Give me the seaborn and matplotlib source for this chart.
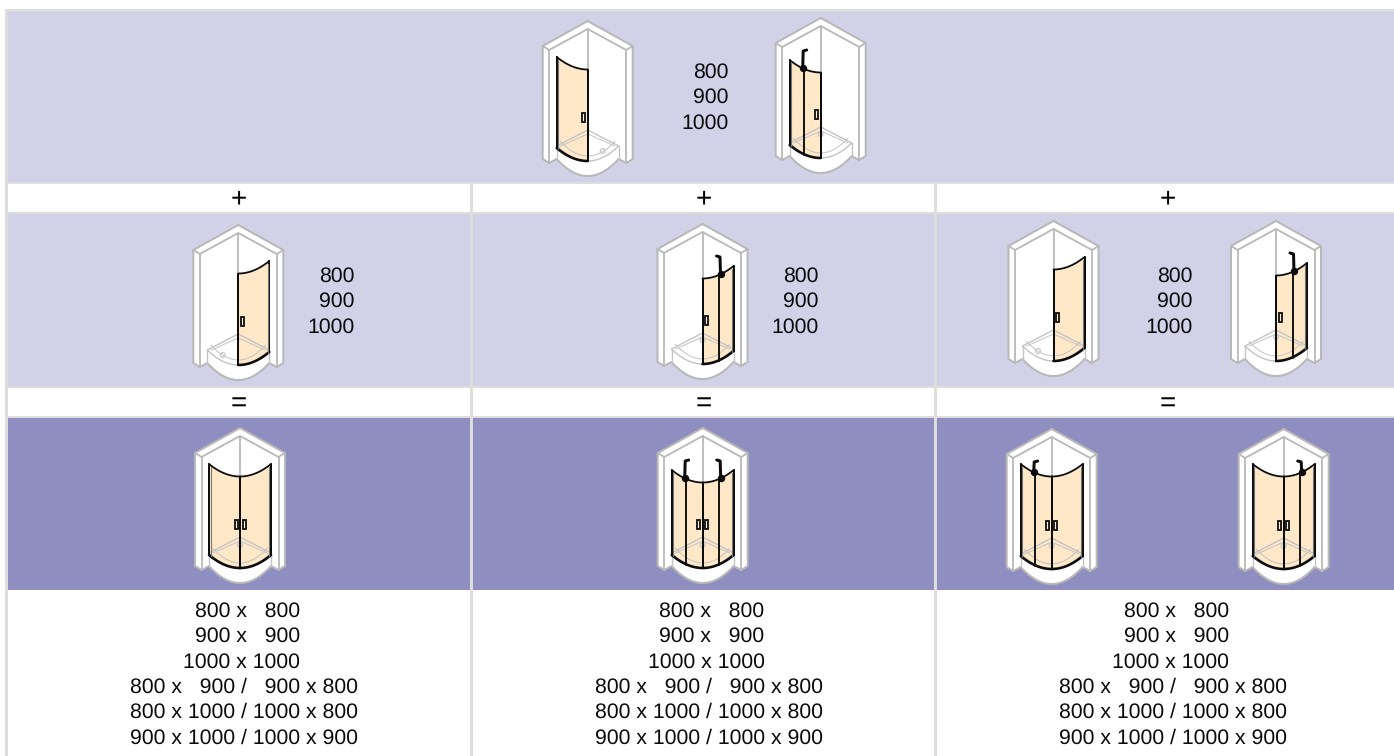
import matplotlib
matplotlib.use("Agg")
import matplotlib.pyplot as plt
import numpy as np
import seaborn as sns
from matplotlib.colors import ListedColormap
from matplotlib.patches import Circle, Polygon, Rectangle

W, H = 1394, 756

# table content
width_sizes = ["800", "900", "1000"]
result_short = ["800 x   800", "900 x   900", "1000 x 1000"]
result_long = ["800 x   900 /   900 x 800", "800 x 1000 / 1000 x 800", "900 x 1000 / 1000 x 900"]
plus_signs = ["+", "+", "+"]
equal_signs = ["=", "=", "="]

# colours: white, rule grey, light lilac, dark lilac
table_colors = ["#ffffff", "#dddddd", "#d2d1e8", "#8f8ec0"]
GLASS = "#ffe8c8"
SHELL = "#b8b8b8"
TRAY = "#c4c4c4"
INK = "#0c0c0c"

# layout, in pixels
col_centers = [239, 703.5, 1168]
col_offsets = [0, 464.5, 929]
rule_x = [(470, 473), (934, 937)]
band_rows = [(12, 182, 2), (184, 212, 0), (214, 386, 2), (388, 416, 0), (418, 590, 3)]

# apex x, apex y, left part, right part, glass top at the edge
icons = [
    (587.7, 21, "door", None, 36),
    (820.7, 18, "fold", None, 42),
    (238.3, 225, None, "door", 36),
    (702.5, 224, None, "fold", 42),
    (1053.5, 221, None, "door", 36),
    (1276, 221, None, "fold", 42),
    (240, 428, "door", "door", 36),
    (702.7, 428, "fold", "fold", 42),
    (1051.7, 429, "fold", "door", 35),
    (1283.7, 429, "door", "fold", 35),
]


def px(width):
    return width * 0.72


def table_grid():
    grid = np.zeros((H, W), dtype=int)
    grid[9:, 5:] = 1
    grid[590:, 8:] = 0
    for top, bottom, code in band_rows:
        grid[top:bottom, 8:] = code
    for left, right in rule_x:
        grid[184:, left:right] = 1
    return grid


def draw_icon(ax, x0, y0, left, right, top_edge):
    def line(xs, ys, color=SHELL, width=1.5, z=3):
        ax.plot(x0 + np.asarray(xs), y0 + np.asarray(ys), color=color, lw=px(width),
                solid_capstyle="round", solid_joinstyle="round", zorder=z)

    def poly(xs, ys, face, z):
        ax.add_patch(Polygon(np.column_stack([x0 + np.asarray(xs), y0 + np.asarray(ys)]),
                             closed=True, facecolor=face, edgecolor="none", zorder=z))

    arc_x = np.linspace(-31, 31, 61)
    front = 138 + 17 * (1 - (arc_x / 31) ** 2)
    plate = 125 + 15 * (1 - (arc_x / 31) ** 2)

    # wall shell
    out_x = np.r_[0, 45, 45, 38.5, arc_x[::-1], -38.5, -45, -45]
    out_y = np.r_[0, 25, 138, 142, front[::-1], 142, 138, 25]
    poly(out_x, out_y, "#ffffff", 2)
    line(np.r_[out_x, 0], np.r_[out_y, 0], width=2)
    line([-45, -38.5, 0, 38.5, 45], [25, 29, 8, 29, 25], width=1.8)
    line([-38.5, -38.5], [29, 142], width=1.8)
    line([38.5, 38.5], [29, 142], width=1.8)
    line([0, 0], [8, 109], width=1.8)

    # glass panels under the tray lines
    for side, part in ((-1, left), (1, right)):
        if part is None:
            continue
        xs = np.linspace(0, 31, 32)
        top = top_edge + 12.5 * (1 - (xs / 31) ** 2)
        bottom = 127 + 13 * (1 - (xs / 31) ** 2)
        ax.fill_between(x0 + side * xs, y0 + top, y0 + bottom, color=GLASS, lw=0, zorder=3.5)

    # tray
    line(np.r_[arc_x, 31, 0, -31, -31], np.r_[plate, 125, 109, 125, 125], color=TRAY, width=1.4, z=4)
    line(arc_x * 0.88, (plate - 4) * 0.985 + 1, color=TRAY, width=1, z=4)
    line([-27, 0, 27], [125, 113, 125], color=TRAY, width=1, z=4)
    line([-31, -31], [125, 138], color=TRAY, width=1.4, z=4)
    line([31, 31], [125, 138], color=TRAY, width=1.4, z=4)
    if left and right:
        drain = (0, 117)
    elif left == "door":
        drain = (15, 130)
    elif right == "door":
        drain = (-15.5, 130)
    else:
        drain = (0, 116)
    ax.add_patch(Circle((x0 + drain[0], y0 + drain[1]), 2.4, facecolor="none",
                        edgecolor=TRAY, lw=px(1.2), zorder=4))

    # frame, handles, arms
    for side, part in ((-1, left), (1, right)):
        if part is None:
            continue
        xs = np.linspace(0, 31, 32)
        top = top_edge + 12.5 * (1 - (xs / 31) ** 2)
        bottom = 127 + 13 * (1 - (xs / 31) ** 2)
        line(side * xs, top, color=INK, width=1.8, z=5)
        line(side * xs, bottom, color=INK, width=2.6, z=5)
        line([side * 31, side * 31], [top[-1], bottom[-1]], color=INK, width=2, z=5)
        line([side * 29.3, side * 29.3], [top[-3] + 1, bottom[-3] - 1], color="#777777", width=1.1, z=5)
        line([0, 0], [top[0], bottom[0]], color=INK, width=2, z=5)
        ax.add_patch(Rectangle((x0 + side * 4 - 1.5, y0 + 91.5), 3, 9.5, facecolor="#fff4e4",
                               edgecolor=INK, lw=px(1.8), zorder=6))
        if part == "fold":
            k = np.argmin(np.abs(xs - 16.5))
            line([side * 16.5, side * 16.5], [top[k], bottom[k]], color=INK, width=1.9, z=5)
            line([side * 18, side * 17.5, side * 14], [top[k] - 1, 33, 32], color=INK, width=3, z=7)
            ax.plot([x0 + side * 18], [y0 + top[k] - 1], "o", ms=px(6), color=INK, zorder=7)


sns.set_theme(style="white")
plt.rcParams["font.family"] = ["Liberation Sans", "DejaVu Sans"]
plt.rcParams["text.hinting"] = "no_hinting"

fig = plt.figure(figsize=(W / 100, H / 100), dpi=100)
ax = fig.add_axes([0, 0, 1, 1])
sns.heatmap(table_grid(), ax=ax, cmap=ListedColormap(table_colors), vmin=-0.5, vmax=3.5,
            cbar=False, xticklabels=False, yticklabels=False)
ax.set_xlim(0, W)
ax.set_ylim(H, 0)
ax.axis("off")

for icon in icons:
    draw_icon(ax, *icon)

FS = 15.35
INK_TEXT = "#0a0a0a"


def size_stack(right_x, y_first):
    for i, label in enumerate(width_sizes):
        ax.text(right_x, y_first + i * 25.8, label, ha="right", va="center", fontsize=FS,
                color=INK_TEXT, zorder=8)


size_stack(728.5, 72)
for right_x in (354.5, 818.5, 1192.5):
    size_stack(right_x, 276)

for center, plus, equal in zip(col_centers, plus_signs, equal_signs):
    ax.text(center, 199, plus, ha="center", va="center", fontsize=20, color="#000000", zorder=8)
    ax.text(center, 404, equal, ha="center", va="center", fontsize=20, color="#000000", zorder=8)

for offset in col_offsets:
    for i, label in enumerate(result_short):
        ax.text(300 + offset, 611 + i * 25.6, label, ha="right", va="center", fontsize=FS,
                color=INK_TEXT, zorder=8)
    for i, label in enumerate(result_long):
        ax.text(358 + offset, 687 + i * 25.6, label, ha="right", va="center", fontsize=FS,
                color=INK_TEXT, zorder=8)

fig.savefig("out.png", dpi=100)
plt.close(fig)
